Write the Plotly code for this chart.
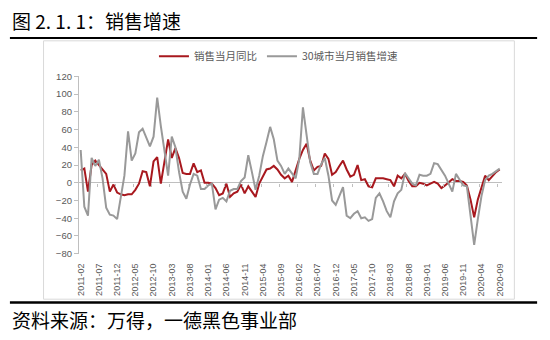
import pandas as pd
import plotly.graph_objects as go

W, H = 550, 340

# ---- data ----
months = [d.strftime("%Y-%m") for d in pd.date_range("2011-02-01", "2020-09-01", freq="MS")]

sales_yoy = [14, 16, -10, 20, 25, 20, 15, 10, -10, -2,
             -11, -13, -14, -13, -13, -8, -1, 13, 12, -4,
             24, 29, -1, 25, 49, 28, 39, 28, 11, 10,
             10, 22, 12, 14, 0, 0, -1, -6, -14, -12,
             -1, -16, -12, -10, -2, -12, -4, -10, -16, -1,
             8, 15, 16, 19, 15, 9, 5, 8, 1, 15,
             27, 37, 44, 25, 14, 18, 19, 33, 27, 9,
             12, 19, 25, 15, 7, 9, 20, 3, 4, -4,
             -5, 5, 5, 5, 4, 3, -4, 8, 5, 10,
             2, -4, -4, 0, -1, -3, -1, 1, -1, -6,
             -3, 1, 4, 2, 2, 1, -3, -19, -39, -19,
             -4, 8, 3, 8, 12, 15]

city30 = [37, -27, -37, 28, 19, 26, 5, -28, -36, -37,
          -41, -17, 8, 58, 25, 33, 57, 61, 50, 41,
          52, 96, 64, 36, 8, 52, 40, 12, -10, -18,
          -2, 10, 8, -7, -7, -3, -1, -30, -19, -17,
          -21, -9, -7, -7, 2, 6, 31, 12, -8, 8,
          30, 46, 63, 49, 25, 19, 10, 16, 10, 5,
          27, 85, 54, 23, 10, 10, 21, 28, 8, -20,
          -25, -15, -5, -37, -40, -35, -32, -40, -39, -43,
          -41, -17, -12, -21, -32, -39, -21, -12, -8, 11,
          5, -1, -3, 9, 8, 8, 10, 22, 21, 14,
          8, -1, -10, 10, 3, -3, -4, -37, -70, -41,
          -15, 3, 8, 10, 13, 16]

tick_labels = ["2011-02", "2011-07", "2011-12", "2012-05", "2012-10", "2013-03",
               "2013-08", "2014-01", "2014-06", "2014-11", "2015-04", "2015-09",
               "2016-02", "2016-07", "2016-12", "2017-05", "2017-10", "2018-03",
               "2018-08", "2019-01", "2019-06", "2019-11", "2020-04", "2020-09"]

y_ticks = [-80, -60, -40, -20, 0, 20, 40, 60, 80, 100, 120]

name_red = "销售当月同比"
name_gray = "30城市当月销售增速"
title_text = "图 2. 1. 1：销售增速"
source_text = "资料来源：万得，一德黑色事业部"

# ---- helpers for pixel placement ----
def px(x):
    return x / W

def py(y):
    return 1 - y / H

fig = go.Figure()
fig.add_trace(go.Scatter(x=months, y=sales_yoy, mode="lines", name=name_red,
                         line=dict(color="#A8181E", width=2)))
fig.add_trace(go.Scatter(x=months, y=city30, mode="lines", name=name_gray,
                         line=dict(color="#999999", width=2)))

axis_gray = "#BFBFBF"
label_font = dict(family="Liberation Sans, Arial, sans-serif", size=9.5, color="#595959")

fig.update_layout(
    width=W, height=H,
    margin=dict(l=0, r=0, t=0, b=0),
    paper_bgcolor="white", plot_bgcolor="white",
    showlegend=True,
    legend=dict(orientation="h", x=px(279), xanchor="center", y=py(52), yanchor="middle",
                font=dict(family="Noto Sans CJK SC, sans-serif", size=10.5, color="#595959"),
                bgcolor="rgba(0,0,0,0)", itemwidth=30, tracegroupgap=0),
    xaxis=dict(type="category", domain=[px(76.7), px(504)], range=[-0.5, len(months) - 0.5],
               showgrid=False, showline=False, zeroline=False,
               tickmode="array", tickvals=tick_labels, ticktext=tick_labels,
               tickangle=-90, ticks="", ticklabelstandoff=7,
               tickfont=dict(family="Liberation Sans, Arial, sans-serif", size=9, color="#595959")),
    xaxis2=dict(overlaying="x", anchor="free", position=py(182.7), domain=[px(76.7), px(504)],
                range=[-0.5, len(months) - 0.5], showgrid=False, showline=False, zeroline=False,
                tickmode="array", tickvals=[4.5 + 5 * k for k in range(23)],
                ticks="outside", ticklen=3, tickcolor=axis_gray, showticklabels=False),
    yaxis=dict(domain=[py(256), py(72.7)], range=[-80, 120], tickmode="array", tickvals=y_ticks,
               showgrid=False, showline=True, linecolor=axis_gray, linewidth=1,
               ticks="outside", ticklen=4, tickcolor=axis_gray,
               zeroline=True, zerolinecolor=axis_gray, zerolinewidth=1,
               tickfont=label_font),
)

# dummy trace so the secondary tick axis renders
fig.add_trace(go.Scatter(x=[0], y=[None], xaxis="x2", showlegend=False, hoverinfo="skip"))

shapes = [
    dict(type="line", xref="paper", yref="paper", x0=px(7), x1=px(540), y0=py(33), y1=py(33),
         line=dict(color="black", width=2)),
    dict(type="rect", xref="paper", yref="paper", x0=px(41), x1=px(517), y0=py(303), y1=py(36),
         line=dict(color="#D9D9D9", width=1), layer="below"),
    dict(type="line", xref="paper", yref="paper", x0=px(7), x1=px(540), y0=py(306.5), y1=py(306.5),
         line=dict(color="black", width=2.5)),
]
fig.update_layout(shapes=shapes)

fig.add_annotation(text=title_text, xref="paper", yref="paper", x=px(7), y=py(15),
                   xanchor="left", yanchor="middle", showarrow=False,
                   font=dict(family="Noto Sans CJK SC, sans-serif", size=19, color="black"))
fig.add_annotation(text=source_text, xref="paper", yref="paper", x=px(7), y=py(324),
                   xanchor="left", yanchor="middle", showarrow=False,
                   font=dict(family="Noto Sans CJK SC, sans-serif", size=19, color="black"))

fig.write_html("out.html")
